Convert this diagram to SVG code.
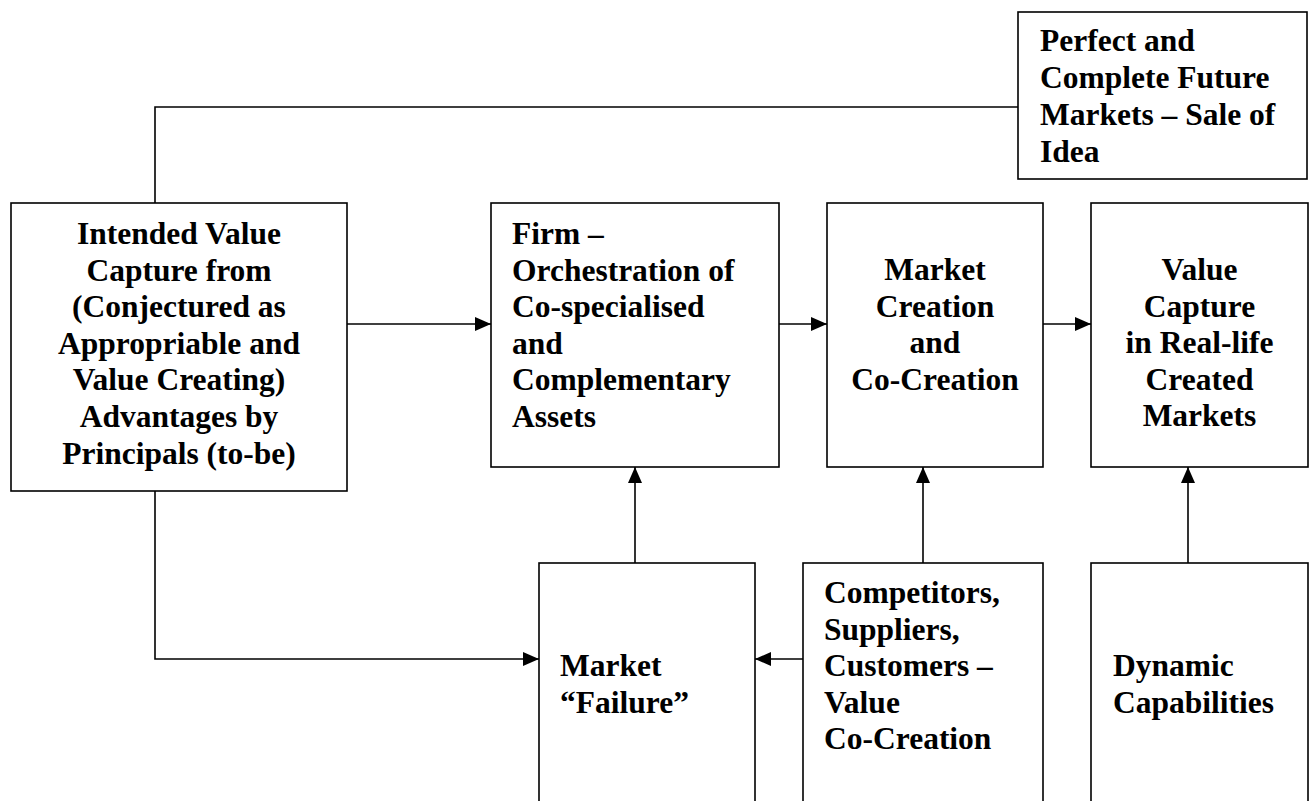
<svg xmlns="http://www.w3.org/2000/svg" width="1314" height="801" viewBox="0 0 1314 801">
<style>
.box{fill:#fff;stroke:#000;stroke-width:1.6}
.t{font-family:"Liberation Serif","Times New Roman",serif;font-weight:bold;font-size:31.5px;fill:#000}
.c{text-anchor:middle}
.ln{fill:none;stroke:#000;stroke-width:1.6}
</style>
<defs>
<marker id="ah" viewBox="0 0 16 14" refX="16" refY="7" markerWidth="16" markerHeight="14" markerUnits="userSpaceOnUse" orient="auto">
<path d="M0,0 L16,7 L0,14 Z" fill="#000"/>
</marker>
</defs>
<rect width="1314" height="801" fill="#fff"/>
<g id="connectors">
<path class="ln" d="M155,203 V107 H1018"/>
<path class="ln" d="M347,324 H491" marker-end="url(#ah)"/>
<path class="ln" d="M779,324 H827" marker-end="url(#ah)"/>
<path class="ln" d="M1043,324 H1091" marker-end="url(#ah)"/>
<path class="ln" d="M155,491 V659 H539" marker-end="url(#ah)"/>
<path class="ln" d="M803,659 H755" marker-end="url(#ah)"/>
<path class="ln" d="M635,563 V467" marker-end="url(#ah)"/>
<path class="ln" d="M923,563 V467" marker-end="url(#ah)"/>
<path class="ln" d="M1188,563 V467" marker-end="url(#ah)"/>
</g>
<g id="perfect">
<rect class="box" x="1018" y="12" width="289" height="167"/>
<text class="t" x="1040" y="51">Perfect and</text>
<text class="t" x="1040" y="88">Complete Future</text>
<text class="t" x="1040" y="125">Markets – Sale of</text>
<text class="t" x="1040" y="162">Idea</text>
</g>
<g id="intended">
<rect class="box" x="11" y="203" width="336" height="288"/>
<text class="t c" x="179" y="244">Intended Value</text>
<text class="t c" x="179" y="280.6">Capture from</text>
<text class="t c" x="179" y="317.2">(Conjectured as</text>
<text class="t c" x="179" y="353.8">Appropriable and</text>
<text class="t c" x="179" y="390.4">Value Creating)</text>
<text class="t c" x="179" y="427">Advantages by</text>
<text class="t c" x="179" y="463.6">Principals (to-be)</text>
</g>
<g id="firm">
<rect class="box" x="491" y="203" width="288" height="264"/>
<text class="t" x="512" y="244">Firm –</text>
<text class="t" x="512" y="280.6">Orchestration of</text>
<text class="t" x="512" y="317.2">Co-specialised</text>
<text class="t" x="512" y="353.8">and</text>
<text class="t" x="512" y="390.4">Complementary</text>
<text class="t" x="512" y="427">Assets</text>
</g>
<g id="market-creation">
<rect class="box" x="827" y="203" width="216" height="264"/>
<text class="t c" x="935" y="280">Market</text>
<text class="t c" x="935" y="316.6">Creation</text>
<text class="t c" x="935" y="353.2">and</text>
<text class="t c" x="935" y="389.8">Co-Creation</text>
</g>
<g id="value-capture">
<rect class="box" x="1091" y="203" width="217" height="264"/>
<text class="t c" x="1199.5" y="280">Value</text>
<text class="t c" x="1199.5" y="316.6">Capture</text>
<text class="t c" x="1199.5" y="353.2">in Real-life</text>
<text class="t c" x="1199.5" y="389.8">Created</text>
<text class="t c" x="1199.5" y="426.4">Markets</text>
</g>
<g id="market-failure">
<rect class="box" x="539" y="563" width="216" height="260"/>
<text class="t" x="560" y="676.2">Market</text>
<text class="t" x="560" y="712.8">“Failure”</text>
</g>
<g id="competitors">
<rect class="box" x="803" y="563" width="240" height="260"/>
<text class="t" x="824" y="603">Competitors,</text>
<text class="t" x="824" y="639.6">Suppliers,</text>
<text class="t" x="824" y="676.2">Customers –</text>
<text class="t" x="824" y="712.8">Value</text>
<text class="t" x="824" y="749.4">Co-Creation</text>
</g>
<g id="dynamic">
<rect class="box" x="1091" y="563" width="217" height="260"/>
<text class="t" x="1113" y="676.2">Dynamic</text>
<text class="t" x="1113" y="712.8">Capabilities</text>
</g>
</svg>
